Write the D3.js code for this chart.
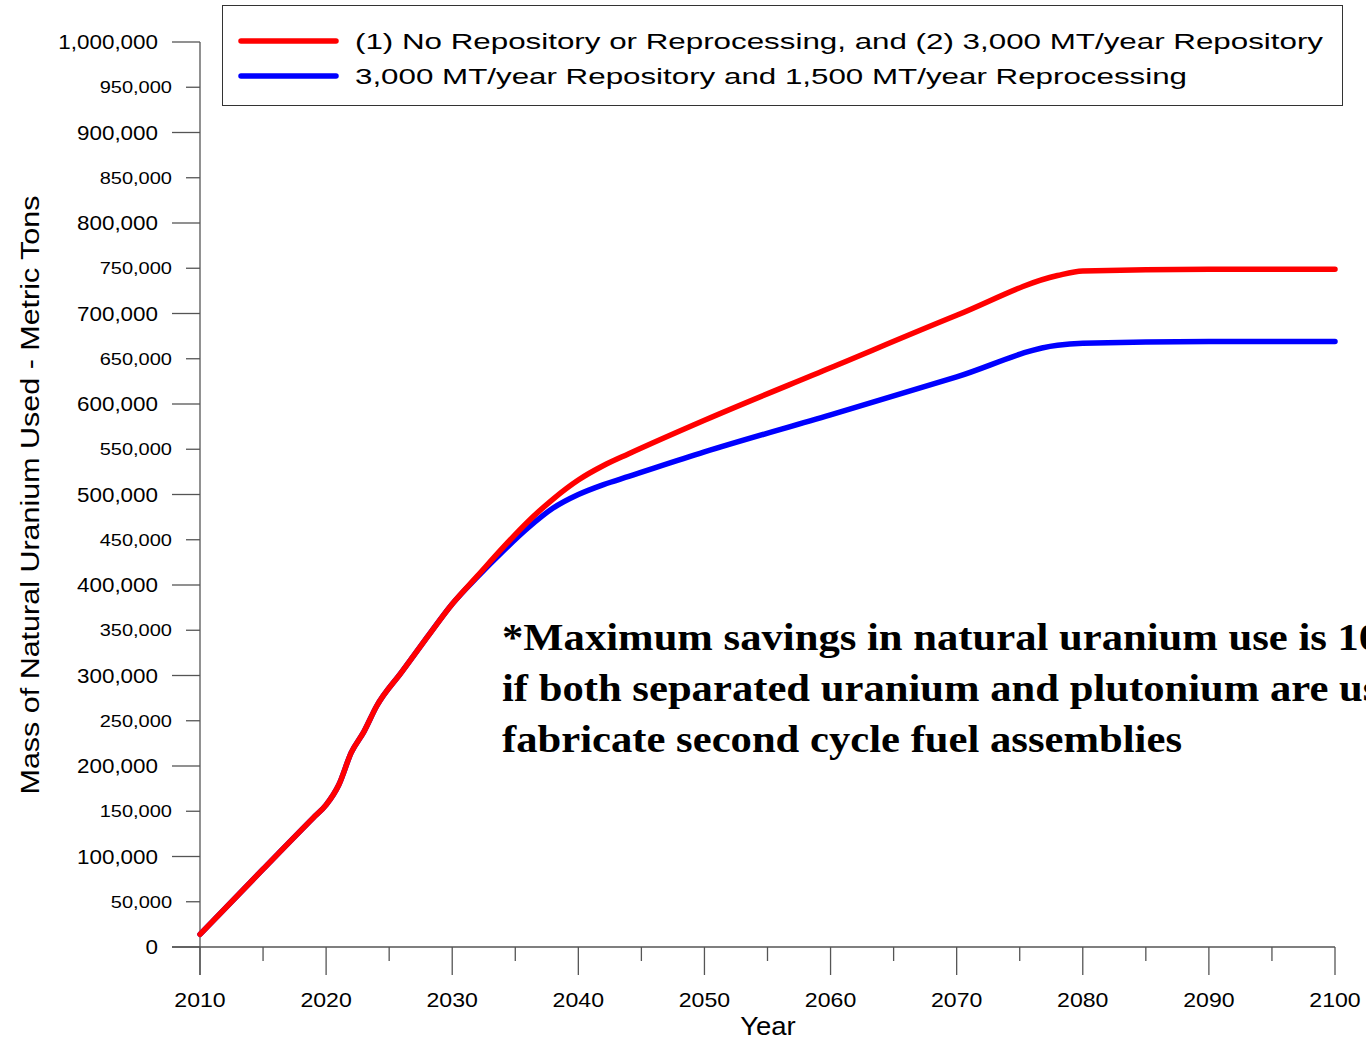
<!DOCTYPE html>
<html>
<head>
<meta charset="utf-8">
<script src="https://cdn.jsdelivr.net/npm/d3@7"></script>
<style>
  body { margin: 0; background: #fff; }
  svg { display: block; }
  text { font-family: "Liberation Sans", Arial, sans-serif; fill: #000; }
</style>
</head>
<body>
<svg width="1366" height="1041"></svg>
<script>
// data
var years = [2010, 2015, 2019, 2020, 2021, 2022, 2023, 2024, 2026, 2028, 2030, 2032, 2034, 2036, 2038, 2040, 2042, 2044, 2050, 2060, 2070, 2078, 2080, 2090, 2100];
var noRepository = [14000, 86000, 143000, 157000, 179000, 215000, 238000, 266000, 304000, 342000, 379000, 410000, 441000, 470000, 495000, 516000, 532000, 545000, 582000, 640000, 698000, 742000, 747000, 749000, 749000];
var withReprocessing = [14000, 86000, 143000, 157000, 179000, 215000, 238000, 266000, 304000, 342000, 379000, 409000, 437000, 463000, 485000, 500000, 511000, 520000, 547000, 588000, 630000, 665000, 667000, 669000, 669000];

var seriesNames = ["(1) No Repository or Reprocessing, and (2) 3,000 MT/year Repository",
                   "3,000 MT/year Repository and 1,500 MT/year Reprocessing"];
var seriesColors = ["#ff0000", "#0000ff"];

var xTicks = [2010, 2020, 2030, 2040, 2050, 2060, 2070, 2080, 2090, 2100];
var xMinor = [2015, 2025, 2035, 2045, 2055, 2065, 2075, 2085, 2095];
var yTicks = d3.range(0, 1000001, 50000);

var note = ["*Maximum savings in natural uranium use is 10% if fuel",
            "if both separated uranium and plutonium are used to",
            "fabricate second cycle fuel assemblies"];

var svg = d3.select("svg");

var x = d3.scaleLinear().domain([2010, 2100]).range([200, 1335]);
var y = d3.scaleLinear().domain([0, 1000000]).range([947, 42]);

var fmt = d3.format(",");
var axisColor = "#555";

// stretch text horizontally, the source uses wide glyphs
function stretch(sel, k) {
  sel.each(function() {
    var w = this.getComputedTextLength();
    d3.select(this).attr("textLength", w * k).attr("lengthAdjust", "spacingAndGlyphs");
  });
}

// y axis
var ya = svg.append("g");
ya.append("line").attr("x1", 200).attr("x2", 200).attr("y1", y(1000000)).attr("y2", 975)
  .attr("stroke", axisColor).attr("stroke-width", 1.3);
yTicks.forEach(function(v, i) {
  var major = i % 2 == 0;
  ya.append("line").attr("x1", major ? 172 : 186).attr("x2", 200)
    .attr("y1", y(v)).attr("y2", y(v)).attr("stroke", axisColor).attr("stroke-width", 1.3);
  var t = ya.append("text")
    .attr("x", major ? 158 : 172)
    .attr("y", y(v))
    .attr("dy", "0.36em")
    .attr("text-anchor", "end")
    .style("font-size", major ? "20px" : "16px")
    .text(fmt(v));
  stretch(t, major ? 1.12 : 1.25);
});

// x axis
var xa = svg.append("g");
xa.append("line").attr("x1", 172).attr("x2", x(2100)).attr("y1", 947).attr("y2", 947)
  .attr("stroke", axisColor).attr("stroke-width", 1.3);
xTicks.forEach(function(v) {
  xa.append("line").attr("x1", x(v)).attr("x2", x(v)).attr("y1", 947).attr("y2", 975)
    .attr("stroke", axisColor).attr("stroke-width", 1.3);
  var t = xa.append("text").attr("x", x(v)).attr("y", 1007)
    .attr("text-anchor", "middle").style("font-size", "21px").text(v);
  stretch(t, 1.1);
});
xMinor.forEach(function(v) {
  xa.append("line").attr("x1", x(v)).attr("x2", x(v)).attr("y1", 947).attr("y2", 961)
    .attr("stroke", axisColor).attr("stroke-width", 1.3);
});

// axis titles
var xt = svg.append("text").attr("x", 768).attr("y", 1035).attr("text-anchor", "middle")
  .style("font-size", "25px").text("Year");
stretch(xt, 1.1);
var yt = svg.append("text").attr("transform", "translate(39,495) rotate(-90)")
  .attr("text-anchor", "middle").style("font-size", "25px")
  .attr("textLength", 599).attr("lengthAdjust", "spacingAndGlyphs")
  .text("Mass of Natural Uranium Used - Metric Tons");

// lines
var line = d3.line()
  .x(function(d) { return x(d[0]); })
  .y(function(d) { return y(d[1]); })
  .curve(d3.curveMonotoneX);

[withReprocessing, noRepository].forEach(function(vals, i) {
  var idx = i == 0 ? 1 : 0;
  svg.append("path")
    .datum(years.map(function(yr, j) { return [yr, vals[j]]; }))
    .attr("d", line)
    .attr("fill", "none")
    .attr("stroke", seriesColors[idx])
    .attr("stroke-width", 5.5)
    .attr("stroke-linecap", "round")
    .attr("stroke-linejoin", "round");
});

// legend
var lg = svg.append("g");
lg.append("rect").attr("x", 222.5).attr("y", 5.5).attr("width", 1120).attr("height", 100)
  .attr("fill", "#fff").attr("stroke", "#333").attr("stroke-width", 1);
var legendWidths = [968, 832];
seriesNames.forEach(function(name, i) {
  var ly = 41 + i * 35;
  lg.append("line").attr("x1", 241).attr("x2", 336).attr("y1", ly).attr("y2", ly)
    .attr("stroke", seriesColors[i]).attr("stroke-width", 5.5).attr("stroke-linecap", "round");
  lg.append("text").attr("x", 355).attr("y", ly).attr("dy", "0.36em")
    .style("font-size", "22px")
    .attr("textLength", legendWidths[i]).attr("lengthAdjust", "spacingAndGlyphs")
    .text(name);
});

// annotation (runs past the right edge, as in the source)
var nt = svg.append("g");
var noteLines = nt.selectAll("text").data(note).enter().append("text")
  .attr("x", 502)
  .attr("y", function(d, i) { return 650 + i * 51; })
  .style("font-family", "'Liberation Serif', 'Times New Roman', serif")
  .style("font-weight", "bold")
  .style("font-size", "38px")
  .text(function(d) { return d; });
var k = 680 / noteLines.nodes()[2].getComputedTextLength();
stretch(noteLines, k);
</script>
</body>
</html>
